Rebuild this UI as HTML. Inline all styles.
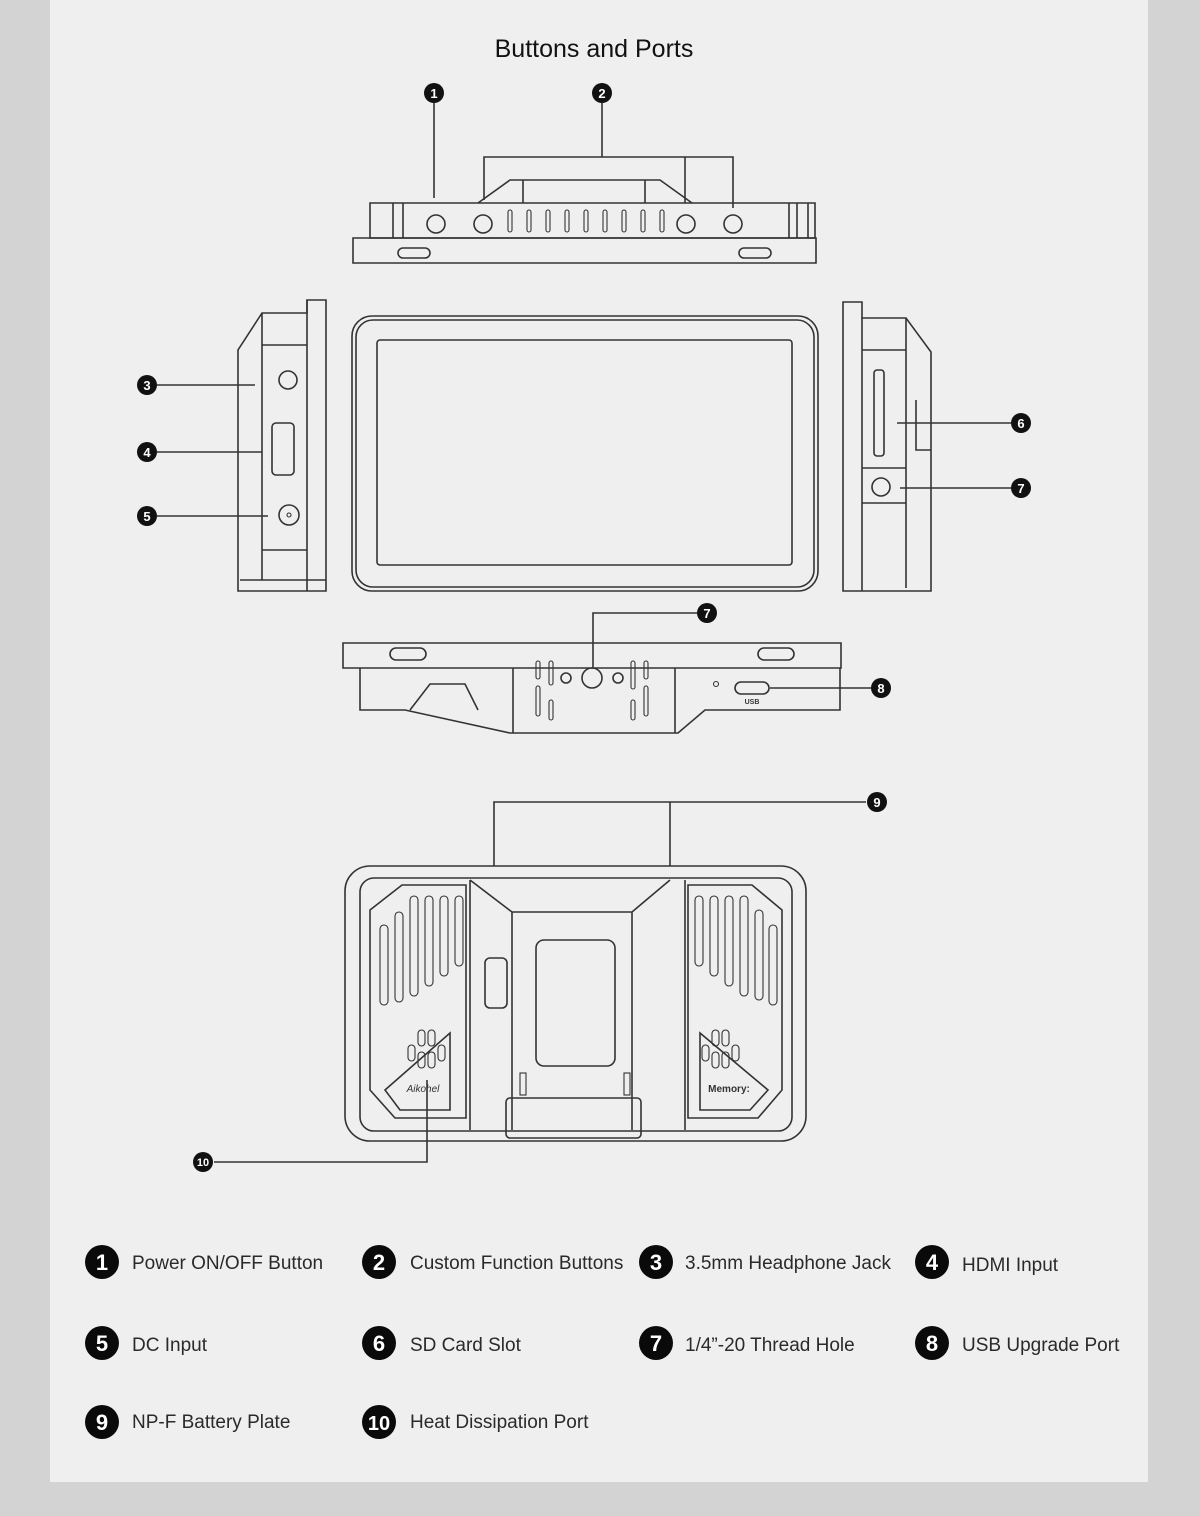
<!DOCTYPE html>
<html><head><meta charset="utf-8"><style>
html,body{margin:0;padding:0;background:#d3d3d3;}
svg{display:block}
.l{fill:none;stroke:#333;stroke-width:1.6}
.t{stroke:#333;stroke-width:1.1;fill:none}
.lt{font-family:"Liberation Sans",sans-serif;font-size:19px;fill:#2a2a2a}
.m{font-family:"Liberation Sans",sans-serif;font-weight:bold;fill:#fff;text-anchor:middle}
</style></head><body>
<svg width="1200" height="1516" viewBox="0 0 1200 1516" xmlns="http://www.w3.org/2000/svg">
<rect x="0" y="0" width="1200" height="1516" fill="#d3d3d3"/>
<rect x="50" y="0" width="1098" height="1482" fill="#efefef"/>
<text x="594" y="57" text-anchor="middle" font-family="Liberation Sans,sans-serif" font-size="25" fill="#111">Buttons and Ports</text>

<!-- TOP VIEW -->
<g class="l">
<line x1="434" y1="103" x2="434" y2="198"/>
<line x1="602" y1="103" x2="602" y2="157"/>
<polyline points="484,200 484,157 733,157 733,208"/>
<line x1="685" y1="157" x2="685" y2="203"/>
<path d="M370 203 H815 V238 H370 Z"/>
<path d="M353 238 H816 V263 H353 Z"/>
<path d="M478 203 L510 180 L660 180 L692 203"/>
<path d="M523 180 V203 M645 180 V203"/>
<rect x="398" y="248" width="32" height="10" rx="5"/>
<rect x="739" y="248" width="32" height="10" rx="5"/>
<circle cx="436" cy="224" r="9"/><circle cx="483" cy="224" r="9"/>
<circle cx="686" cy="224" r="9"/><circle cx="733" cy="224" r="9"/>
<path d="M403 203 V238 M393 203 V238 M789 203 V238 M797 203 V238 M808 203 V238"/>
</g>
<g class="t">
<rect x="508" y="210" width="4" height="22" rx="2"/><rect x="527" y="210" width="4" height="22" rx="2"/>
<rect x="546" y="210" width="4" height="22" rx="2"/><rect x="565" y="210" width="4" height="22" rx="2"/>
<rect x="584" y="210" width="4" height="22" rx="2"/><rect x="603" y="210" width="4" height="22" rx="2"/>
<rect x="622" y="210" width="4" height="22" rx="2"/><rect x="641" y="210" width="4" height="22" rx="2"/>
<rect x="660" y="210" width="4" height="22" rx="2"/>
</g>

<!-- FRONT -->
<g class="l">
<rect x="352" y="316" width="466" height="275" rx="20"/>
<rect x="356" y="320" width="458" height="267" rx="17"/>
<rect x="377" y="340" width="415" height="225" rx="3"/>
</g>

<!-- LEFT SIDE -->
<g class="l">
<path d="M262 313 L238 350 V591 H326 V300 H307 V313 Z"/>
<path d="M262 313 V580 M307 300 V591 M262 345 H307 M262 550 H307 M240 580 H326"/>
<circle cx="288" cy="380" r="9"/>
<rect x="272" y="423" width="22" height="52" rx="4"/>
<circle cx="289" cy="515" r="10"/>
<line x1="157" y1="385" x2="255" y2="385"/>
<line x1="157" y1="452" x2="262" y2="452"/>
<line x1="157" y1="516" x2="268" y2="516"/>
</g>
<g class="t"><circle cx="289" cy="515" r="2"/></g>

<!-- RIGHT SIDE -->
<g class="l">
<path d="M843 302 H862 V318 H906 L931 352 V591 H843 Z"/>
<path d="M862 318 V591 M906 318 V588 M862 350 H906 M862 468 H906 M862 503 H906 M916 400 V450 H931"/>
<rect x="874" y="370" width="10" height="86" rx="3"/>
<circle cx="881" cy="487" r="9"/>
<line x1="897" y1="423" x2="1012" y2="423"/>
<line x1="900" y1="488" x2="1012" y2="488"/>
</g>

<!-- BOTTOM VIEW -->
<g class="l">
<path d="M343 643 H841 V668 H343 Z"/>
<path d="M360 668 V710 H405 L510 733 H678 L705 710 H840 V668"/>
<path d="M513 668 V733 M675 668 V733"/>
<path d="M410 710 L430 684 H465 L478 710"/>
<rect x="390" y="648" width="36" height="12" rx="6"/>
<rect x="758" y="648" width="36" height="12" rx="6"/>
<circle cx="592" cy="678" r="10"/><circle cx="566" cy="678" r="5"/><circle cx="618" cy="678" r="5"/>
<rect x="735" y="682" width="34" height="12" rx="6"/>
<polyline points="697,613 593,613 593,668"/>
<line x1="770" y1="688" x2="871" y2="688"/>
</g>
<g class="t">
<rect x="536" y="661" width="4" height="18" rx="2"/><rect x="549" y="661" width="4" height="24" rx="2"/>
<rect x="536" y="686" width="4" height="30" rx="2"/><rect x="549" y="700" width="4" height="20" rx="2"/>
<rect x="631" y="661" width="4" height="28" rx="2"/><rect x="644" y="661" width="4" height="18" rx="2"/>
<rect x="631" y="700" width="4" height="20" rx="2"/><rect x="644" y="686" width="4" height="30" rx="2"/>
<circle cx="716" cy="684" r="2.5"/>
</g>
<text x="752" y="704" text-anchor="middle" font-family="Liberation Sans,sans-serif" font-size="7" font-weight="bold" fill="#333">USB</text>

<!-- BACK VIEW -->
<g class="l">
<polyline points="494,866 494,802 866,802"/>
<line x1="670" y1="802" x2="670" y2="866"/>
<rect x="345" y="866" width="461" height="275" rx="25"/>
<rect x="360" y="878" width="432" height="253" rx="14"/>
<path d="M470 880 L512 912 V1130 M670 880 L632 912 V1130 M512 912 H632"/>
<path d="M470 880 V1130 M685 880 V1130"/>
<path d="M370 910 L402 885 H466 V1118 H395 L370 1090 Z"/>
<path d="M688 885 H752 L782 910 V1090 L758 1118 H688 Z"/>
<path d="M385 1090 L450 1033 V1110 H400 Z"/>
<path d="M768 1090 L700 1033 V1110 H750 Z"/>
<rect x="536" y="940" width="79" height="126" rx="8"/>
<rect x="506" y="1098" width="135" height="40" rx="4"/>
<rect x="485" y="958" width="22" height="50" rx="5"/>
<polyline points="427,1080 427,1162 214,1162"/>
</g>
<g class="t">
<rect x="380" y="925" width="8" height="80" rx="4"/><rect x="395" y="912" width="8" height="90" rx="4"/>
<rect x="410" y="896" width="8" height="100" rx="4"/><rect x="425" y="896" width="8" height="90" rx="4"/>
<rect x="440" y="896" width="8" height="80" rx="4"/><rect x="455" y="896" width="8" height="70" rx="4"/>
<rect x="695" y="896" width="8" height="70" rx="4"/><rect x="710" y="896" width="8" height="80" rx="4"/>
<rect x="725" y="896" width="8" height="90" rx="4"/><rect x="740" y="896" width="8" height="100" rx="4"/>
<rect x="755" y="910" width="8" height="90" rx="4"/><rect x="769" y="925" width="8" height="80" rx="4"/>
<rect x="418" y="1030" width="7" height="16" rx="3.5"/><rect x="428" y="1030" width="7" height="16" rx="3.5"/>
<rect x="418" y="1052" width="7" height="16" rx="3.5"/><rect x="428" y="1052" width="7" height="16" rx="3.5"/>
<rect x="408" y="1045" width="7" height="16" rx="3.5"/><rect x="438" y="1045" width="7" height="16" rx="3.5"/>
<rect x="712" y="1030" width="7" height="16" rx="3.5"/><rect x="722" y="1030" width="7" height="16" rx="3.5"/>
<rect x="712" y="1052" width="7" height="16" rx="3.5"/><rect x="722" y="1052" width="7" height="16" rx="3.5"/>
<rect x="702" y="1045" width="7" height="16" rx="3.5"/><rect x="732" y="1045" width="7" height="16" rx="3.5"/>
<rect x="520" y="1073" width="6" height="22"/><rect x="624" y="1073" width="6" height="22"/>
</g>
<text x="423" y="1092" text-anchor="middle" font-family="Liberation Sans,sans-serif" font-size="10" font-style="italic" fill="#333">Aikohel</text>
<text x="729" y="1092" text-anchor="middle" font-family="Liberation Sans,sans-serif" font-size="10" font-weight="bold" fill="#333">Memory:</text>

<!-- small markers -->
<g>
<circle cx="434" cy="93" r="10" fill="#111"/><text class="m" x="434" y="98" font-size="13">1</text>
<circle cx="602" cy="93" r="10" fill="#111"/><text class="m" x="602" y="98" font-size="13">2</text>
<circle cx="147" cy="385" r="10" fill="#111"/><text class="m" x="147" y="390" font-size="13">3</text>
<circle cx="147" cy="452" r="10" fill="#111"/><text class="m" x="147" y="457" font-size="13">4</text>
<circle cx="147" cy="516" r="10" fill="#111"/><text class="m" x="147" y="521" font-size="13">5</text>
<circle cx="1021" cy="423" r="10" fill="#111"/><text class="m" x="1021" y="428" font-size="13">6</text>
<circle cx="1021" cy="488" r="10" fill="#111"/><text class="m" x="1021" y="493" font-size="13">7</text>
<circle cx="707" cy="613" r="10" fill="#111"/><text class="m" x="707" y="618" font-size="13">7</text>
<circle cx="881" cy="688" r="10" fill="#111"/><text class="m" x="881" y="693" font-size="13">8</text>
<circle cx="877" cy="802" r="10" fill="#111"/><text class="m" x="877" y="807" font-size="13">9</text>
<circle cx="203" cy="1162" r="10" fill="#111"/><text class="m" x="203" y="1166" font-size="11">10</text>
</g>

<!-- LEGEND -->
<g>
<circle cx="102" cy="1262" r="17" fill="#0a0a0a"/><text class="m" x="102" y="1270" font-size="22">1</text>
<text class="lt" x="132" y="1269">Power ON/OFF Button</text>
<circle cx="379" cy="1262" r="17" fill="#0a0a0a"/><text class="m" x="379" y="1270" font-size="22">2</text>
<text class="lt" x="410" y="1269">Custom Function Buttons</text>
<circle cx="656" cy="1262" r="17" fill="#0a0a0a"/><text class="m" x="656" y="1270" font-size="22">3</text>
<text class="lt" x="685" y="1269">3.5mm Headphone Jack</text>
<circle cx="932" cy="1262" r="17" fill="#0a0a0a"/><text class="m" x="932" y="1270" font-size="22">4</text>
<text class="lt" x="962" y="1271">HDMI Input</text>

<circle cx="102" cy="1343" r="17" fill="#0a0a0a"/><text class="m" x="102" y="1351" font-size="22">5</text>
<text class="lt" x="132" y="1351">DC Input</text>
<circle cx="379" cy="1343" r="17" fill="#0a0a0a"/><text class="m" x="379" y="1351" font-size="22">6</text>
<text class="lt" x="410" y="1351">SD Card Slot</text>
<circle cx="656" cy="1343" r="17" fill="#0a0a0a"/><text class="m" x="656" y="1351" font-size="22">7</text>
<text class="lt" x="685" y="1351">1/4”-20 Thread Hole</text>
<circle cx="932" cy="1343" r="17" fill="#0a0a0a"/><text class="m" x="932" y="1351" font-size="22">8</text>
<text class="lt" x="962" y="1351">USB Upgrade Port</text>

<circle cx="102" cy="1422" r="17" fill="#0a0a0a"/><text class="m" x="102" y="1430" font-size="22">9</text>
<text class="lt" x="132" y="1428">NP-F Battery Plate</text>
<circle cx="379" cy="1422" r="17" fill="#0a0a0a"/><text class="m" x="379" y="1430" font-size="20">10</text>
<text class="lt" x="410" y="1428">Heat Dissipation Port</text>
</g>
</svg>
</body></html>
